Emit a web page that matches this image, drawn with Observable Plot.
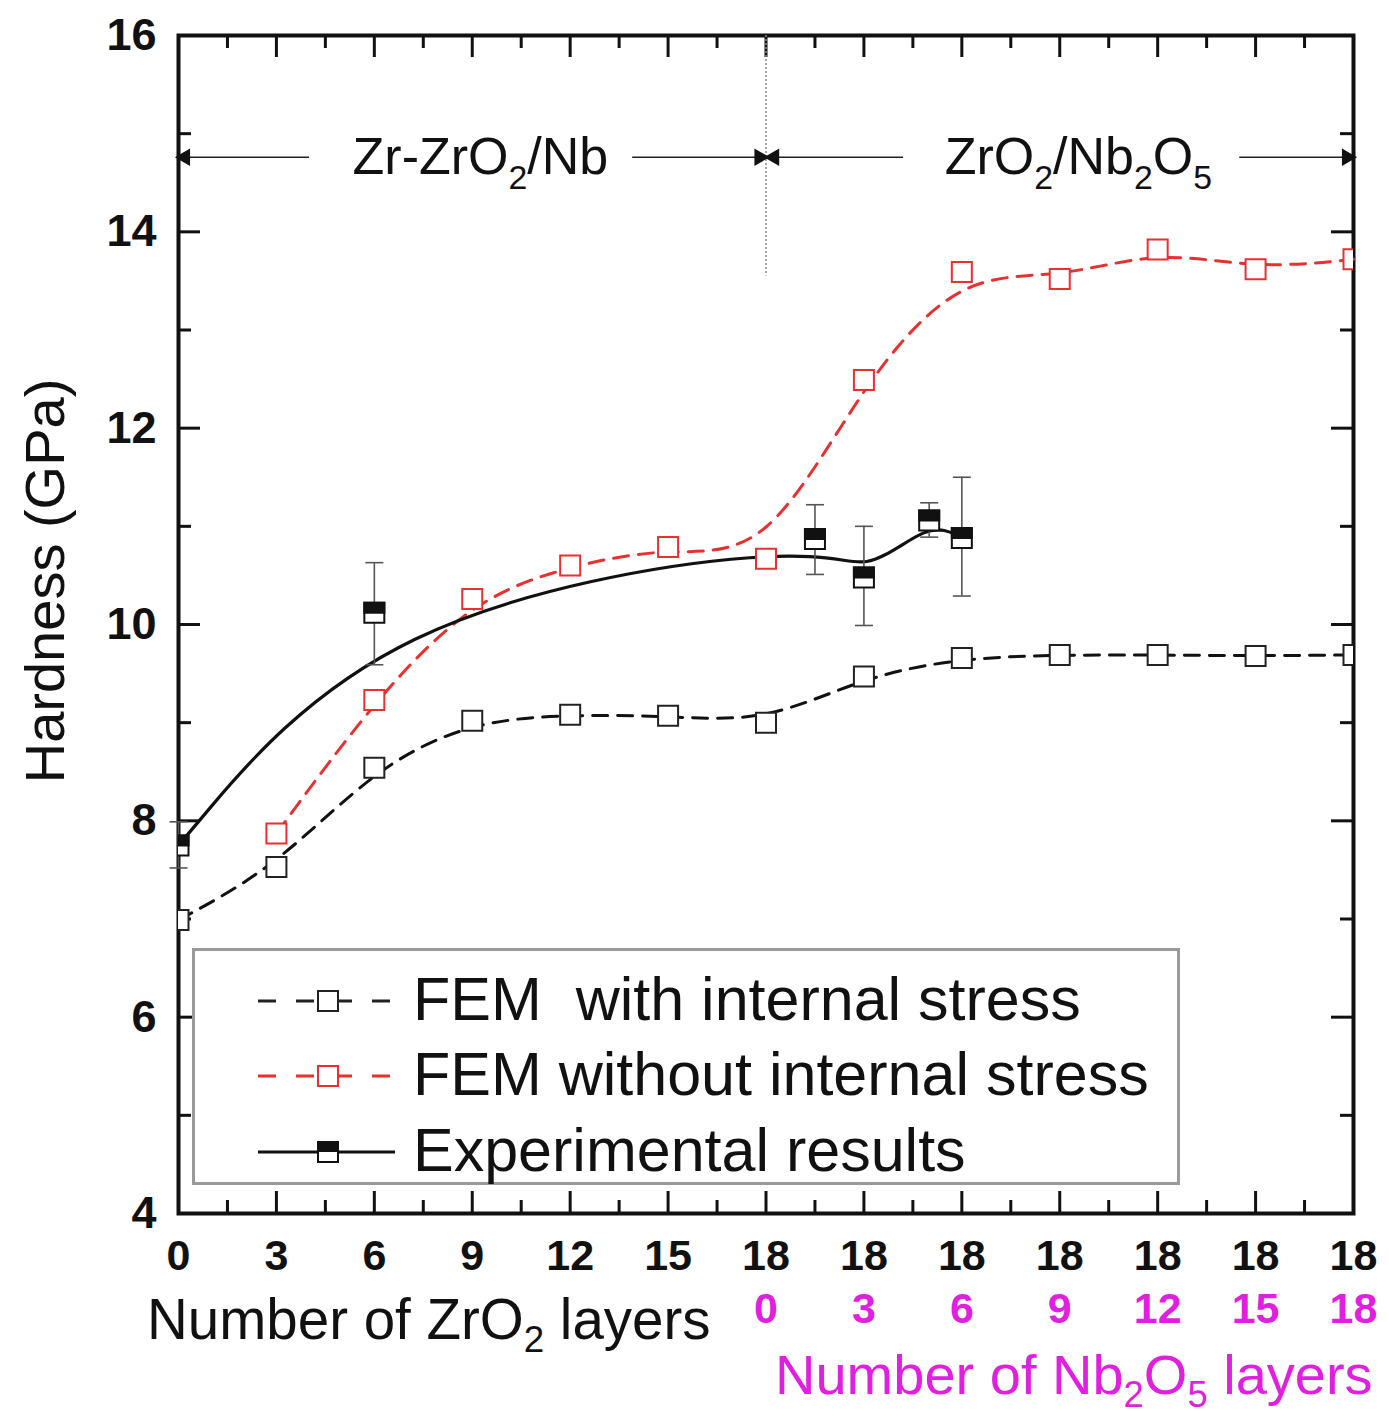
<!DOCTYPE html>
<html><head><meta charset="utf-8">
<script src="https://cdn.jsdelivr.net/npm/d3@7"></script>
<script src="https://cdn.jsdelivr.net/npm/@observablehq/plot@0.6"></script>
<style>
body{margin:0;background:#fff;}
#wrap{position:relative;width:1389px;height:1416px;font-family:"Liberation Sans",Arial,sans-serif;overflow:hidden;}
#wrap svg{position:absolute;left:0;top:0;}
.lbl{position:absolute;white-space:nowrap;font-size:56px;line-height:56px;color:#111;}
.lbl sub{font-size:65%;vertical-align:-0.35em;line-height:0;}
#legend{position:absolute;left:192px;top:948px;width:982px;height:231px;border:3px solid #9a9a9a;background:#fff;}
.lrow{position:absolute;left:218px;font-size:61px;line-height:60px;white-space:pre;color:#111;}
</style>
</head><body><div id="wrap"></div>
<script>
// ---- data ----
const tickPos   = [0,3,6,9,12,15,18,21,24,27,30,33,36];           // cumulative layer position
const zrLabels  = ["0","3","6","9","12","15","18","18","18","18","18","18","18"];
const nbPos     = [18,21,24,27,30,33,36];
const nbLabels  = ["0","3","6","9","12","15","18"];
const xMinor    = [1.5,4.5,7.5,10.5,13.5,16.5,19.5,22.5,25.5,28.5,31.5,34.5];
const yTicks    = [4,6,8,10,12,14,16];
const yMinor    = [5,7,9,11,13,15];

const femWithX  = [0,3,6,9,12,15,18,21,24,27,30,33,36];
const femWithY  = [6.99,7.53,8.54,9.02,9.08,9.07,9.00,9.47,9.66,9.69,9.69,9.68,9.69];
const femWoX    = [3,6,9,12,15,18,21,24,27,30,33,36];
const femWoY    = [7.87,9.23,10.26,10.60,10.79,10.67,12.49,13.59,13.52,13.82,13.62,13.72];

const expX      = [0,6,19.5,21,23,24];
const expY      = [7.75,10.12,10.87,10.48,11.06,10.88];
const expLow    = [7.52,9.59,10.51,9.99,10.89,10.29];
const expHigh   = [7.99,10.63,11.22,11.00,11.24,11.50];

const regionNames   = ["Zr-ZrO_2/Nb","ZrO_2/Nb_2O_5"];
const regionCenters = [9.25, 27.57];
const regionY       = 14.76;
const boundaryX     = 18;
const boundaryTop   = 16, boundaryBottom = 13.55;
// arrow shafts [from, to] (head at "to")
const arrowFrom = [4.0, 13.9, 22.2, 32.5];
const arrowTo   = [0.2, 17.8, 18.25, 35.8];

const legendItems = ["FEM  with internal stress","FEM without internal stress","Experimental results"];

// ---- build ----
const W = 1389, H = 1416;
const mL = 178, mR = 36, mT = 35, mB = 203;
const plotW = W - mL - mR, plotH = H - mT - mB;
const RED = "#e8312f", MAG = "#e01fe0";
const major = 22, minor = 13;

const femWith = femWithX.map((x,i)=>({x, y: femWithY[i]}));
const femWo = femWoX.map((x,i)=>({x, y: femWoY[i]}));
const exp = expX.map((x,i)=>({x, y: expY[i], lo: expLow[i], hi: expHigh[i]}));
const arrows = arrowFrom.map((f,i)=>({x1: f, x2: arrowTo[i], y: regionY}));

const topHalf = {draw(ctx, size){ const s = Math.sqrt(size)/2; ctx.moveTo(-s,-s); ctx.lineTo(s,-s); ctx.lineTo(s,0); ctx.lineTo(-s,0); ctx.closePath(); }};
const capSym = {draw(ctx, size){ const s = Math.sqrt(size)/2; ctx.moveTo(-s,0); ctx.lineTo(s,0); }};
const rSq = 20/Math.sqrt(Math.PI);

const chart = Plot.plot({
  width: W, height: H,
  marginLeft: mL, marginRight: mR, marginTop: mT, marginBottom: mB,
  x: {domain: [0,36], axis: null},
  y: {domain: [4,16], axis: null},
  style: {fontFamily: '"Liberation Sans", Arial, sans-serif', background: "white", overflow: "visible"},
  marks: [
    // ticks (inward, all four sides)
    Plot.ruleX(tickPos, {x: d=>d, insetTop: plotH - major, strokeWidth: 3, stroke: "#111"}),
    Plot.ruleX(tickPos, {x: d=>d, insetBottom: plotH - major, strokeWidth: 3, stroke: "#111"}),
    Plot.ruleX(xMinor, {x: d=>d, insetTop: plotH - minor, strokeWidth: 3, stroke: "#111"}),
    Plot.ruleX(xMinor, {x: d=>d, insetBottom: plotH - minor, strokeWidth: 3, stroke: "#111"}),
    Plot.ruleY(yTicks, {y: d=>d, insetRight: plotW - major, strokeWidth: 3, stroke: "#111"}),
    Plot.ruleY(yTicks, {y: d=>d, insetLeft: plotW - major, strokeWidth: 3, stroke: "#111"}),
    Plot.ruleY(yMinor, {y: d=>d, insetRight: plotW - minor, strokeWidth: 3, stroke: "#111"}),
    Plot.ruleY(yMinor, {y: d=>d, insetLeft: plotW - minor, strokeWidth: 3, stroke: "#111"}),
    Plot.frame({stroke: "#111", strokeWidth: 4}),
    // boundary dotted line
    Plot.ruleX([boundaryX], {x: d=>d, y1: boundaryTop, y2: boundaryBottom, stroke: "#888", strokeWidth: 1.5, strokeDasharray: "2,2"}),
    // region arrows
    Plot.link(arrows, {x1: "x1", x2: "x2", y1: "y", y2: "y", stroke: "#222", strokeWidth: 1.6}),
    Plot.dot(arrows, {x: "x2", y: "y", symbol: "triangle", r: 6.5, fill: "#111", stroke: "none", rotate: d => d.x2 > d.x1 ? 90 : -90}),
    Plot.text(regionNames, {x: (d,i)=>regionCenters[i], y: ()=>regionY, text: d=>d, fontSize: 52, fill: "#111"}),
    // series lines
    Plot.line(femWith, {x: "x", y: "y", curve: "basis", stroke: "#111", strokeWidth: 3, strokeDasharray: "15,10"}),
    Plot.line(femWo, {x: "x", y: "y", curve: "basis", stroke: RED, strokeWidth: 3, strokeDasharray: "15,10"}),
    Plot.line(exp, {x: "x", y: "y", curve: "basis", stroke: "#111", strokeWidth: 3.2}),
    // markers
    Plot.dot(femWith, {x: "x", y: "y", symbol: "square", r: rSq, fill: "white", stroke: "#222", strokeWidth: 2, clip: true}),
    Plot.dot(femWo, {x: "x", y: "y", symbol: "square", r: rSq, fill: "white", stroke: RED, strokeWidth: 2, clip: true}),
    Plot.ruleX(exp, {x: "x", y1: "lo", y2: "hi", stroke: "#555", strokeWidth: 1.6}),
    Plot.dot(exp, {x: "x", y: "lo", symbol: capSym, r: 18/Math.sqrt(Math.PI), stroke: "#555", strokeWidth: 1.6, fill: "none"}),
    Plot.dot(exp, {x: "x", y: "hi", symbol: capSym, r: 18/Math.sqrt(Math.PI), stroke: "#555", strokeWidth: 1.6, fill: "none"}),
    Plot.dot(exp, {x: "x", y: "y", symbol: "square", r: rSq, fill: "white", stroke: "#111", strokeWidth: 2, clip: true}),
    Plot.dot(exp, {x: "x", y: "y", symbol: topHalf, r: rSq, fill: "#111", stroke: "#111", strokeWidth: 2, clip: true}),
    // tick labels
    Plot.text(tickPos, {x: d=>d, text: (d,i)=>zrLabels[i], frameAnchor: "bottom", dy: 56, fontSize: 43, fontWeight: "bold", fill: "#111"}),
    Plot.text(nbPos, {x: d=>d, text: (d,i)=>nbLabels[i], frameAnchor: "bottom", dy: 109, fontSize: 43, fontWeight: "bold", fill: MAG}),
    Plot.text(yTicks, {y: d=>d, text: d=>String(d), frameAnchor: "left", dx: -22, textAnchor: "end", fontSize: 45, fontWeight: "bold", fill: "#111"})
  ]
});

// subscripts in svg text ("_2")
const NS = "http://www.w3.org/2000/svg";
chart.querySelectorAll("text, tspan").forEach(el => {
  if (el.childElementCount || !el.textContent.includes("_")) return;
  const fs = parseFloat(el.getAttribute("font-size") || el.closest("[font-size]")?.getAttribute("font-size") || 52);
  const parts = el.textContent.split(/_(\w)/);
  el.textContent = "";
  let shifted = false;
  parts.forEach((p,i) => {
    if (!p) return;
    const t = document.createElementNS(NS, "tspan");
    if (i % 2) { t.setAttribute("font-size", fs*0.65); t.setAttribute("dy", fs*0.3); shifted = true; }
    else if (shifted) { t.setAttribute("dy", -fs*0.3); shifted = false; }
    t.textContent = p;
    el.appendChild(t);
  });
});

const wrap = document.getElementById("wrap");
wrap.appendChild(chart);

// axis titles
function addLabel(html, css){ const d = document.createElement("div"); d.className = "lbl"; d.innerHTML = html; Object.assign(d.style, css); wrap.appendChild(d); return d; }
addLabel("Number of ZrO<sub>2</sub> layers", {left: "147px", top: "1292px", fontSize: "56.5px"});
addLabel("Number of Nb<sub>2</sub>O<sub>5</sub> layers", {left: "775px", top: "1347px", color: MAG});
addLabel("Hardness (GPa)", {left: "45px", top: "581px", transform: "translate(-50%,-50%) rotate(-90deg)"});

// legend
const leg = document.createElement("div"); leg.id = "legend"; wrap.appendChild(leg);
const rowY = [50, 125, 201]; // centers within legend box
const lsvg = d3.select(leg).append("svg").attr("width", 982).attr("height", 231).style("position","absolute").style("left","0").style("top","0");
const styles = [
  {stroke: "#222", dash: "18,20", exp: false},
  {stroke: RED, dash: "18,20", exp: false},
  {stroke: "#111", dash: null, exp: true}
];
legendItems.forEach((t,i) => {
  const cy = rowY[i], s = styles[i];
  const ln = lsvg.append("line").attr("x1", 63).attr("x2", 200).attr("y1", cy).attr("y2", cy)
    .attr("stroke", s.stroke).attr("stroke-width", 3);
  if (s.dash) ln.attr("stroke-dasharray", s.dash);
  lsvg.append("rect").attr("x", 123).attr("y", cy-10).attr("width", 20).attr("height", 20)
    .attr("fill", "white").attr("stroke", s.stroke).attr("stroke-width", 2);
  if (s.exp) lsvg.append("rect").attr("x", 123).attr("y", cy-10).attr("width", 20).attr("height", 10).attr("fill", "#111");
  const r = document.createElement("div"); r.className = "lrow"; r.textContent = t; r.style.top = (cy - 32) + "px";
  leg.appendChild(r);
});
</script>
</body></html>
